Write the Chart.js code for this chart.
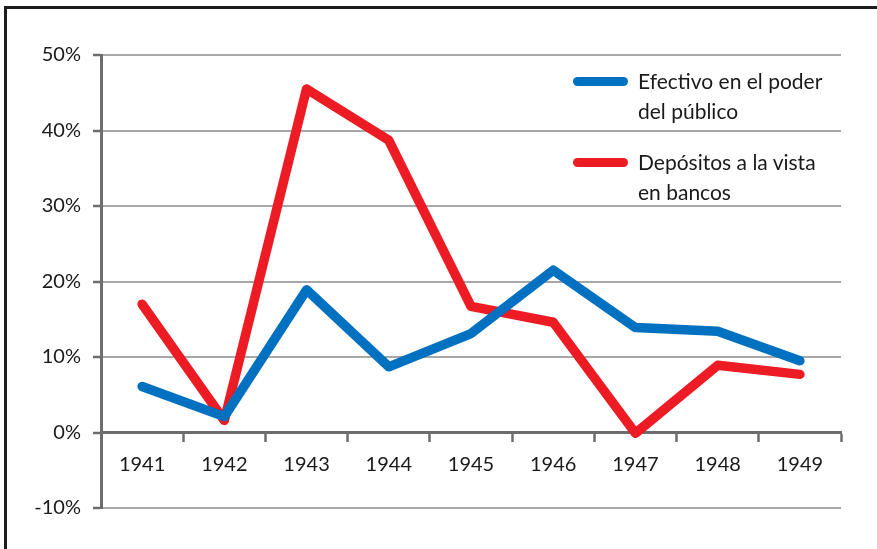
<!DOCTYPE html>
<html>
<head>
<meta charset="utf-8">
<script src="https://cdn.jsdelivr.net/npm/chart.js@4/dist/chart.umd.min.js"></script>
<style>
  html, body { margin: 0; padding: 0; background: #fff; overflow: hidden; }
  #wrap { position: relative; width: 877px; height: 549px; }
  #frame { position: absolute; left: 4px; top: 6px; width: 900px; height: 600px; border: 3px solid #1d1d1d; box-sizing: border-box; pointer-events: none; }
  canvas { position: absolute; left: 0; top: 0; }
  .leg { position: absolute; font-family: Lato, sans-serif; font-size: 21px; line-height: 30px; color: #1a1a1a; white-space: nowrap; }
  .sw { position: absolute; width: 55px; height: 9px; border-radius: 5px; }
</style>
</head>
<body>
<div id="wrap">
  <canvas id="c" width="877" height="549"></canvas>
  <div id="frame"></div>
  <div id="legend"></div>
</div>
<script>
const categories = ['1941','1942','1943','1944','1945','1946','1947','1948','1949'];
const efectivo  = [6.1, 2.1, 18.9, 8.7, 13.1, 21.5, 13.9, 13.4, 9.5];
const depositos = [17.0, 1.6, 45.5, 38.7, 16.7, 14.6, -0.1, 8.9, 7.7];
const seriesNames = [['Efectivo en el poder', 'del público'], ['Depósitos a la vista', 'en bancos']];
const yTicks = [-10, 0, 10, 20, 30, 40, 50];
const colors = ['#0070C0', '#ED1C24'];

// legend (HTML text)
const legend = document.getElementById('legend');
const legTops = [66, 147];
seriesNames.forEach((lines, i) => {
  const sw = document.createElement('div');
  sw.className = 'sw';
  sw.style.left = '573px';
  sw.style.top = (legTops[i] + 11) + 'px';
  sw.style.background = colors[i];
  legend.appendChild(sw);
  const t = document.createElement('div');
  t.className = 'leg';
  t.style.left = '638px';
  t.style.top = legTops[i] + 'px';
  t.innerHTML = lines.join('<br>');
  legend.appendChild(t);
});

const tickFont = { family: 'Lato', size: 20 };
new Chart(document.getElementById('c'), {
  type: 'line',
  data: {
    labels: categories,
    datasets: [
      { label: seriesNames[0].join(' '), data: efectivo, borderColor: colors[0], backgroundColor: colors[0],
        borderWidth: 9.5, pointRadius: 0, borderCapStyle: 'round', borderJoinStyle: 'round', tension: 0 },
      { label: seriesNames[1].join(' '), data: depositos, borderColor: colors[1], backgroundColor: colors[1],
        borderWidth: 9.5, pointRadius: 0, borderCapStyle: 'round', borderJoinStyle: 'round', tension: 0 }
    ]
  },
  options: {
    responsive: false,
    animation: false,
    events: [],
    layout: { padding: { left: 0, top: 55, right: 36, bottom: 41 } },
    plugins: { legend: { display: false }, tooltip: { enabled: false } },
    scales: {
      x: {
        type: 'category',
        position: { y: 0 },
        offset: true,
        grid: { display: true, drawOnChartArea: false, drawTicks: true, offset: true, tickLength: 8, tickColor: '#6d6d6d', tickWidth: 2.5 },
        border: { display: true, color: '#6d6d6d', width: 3 },
        ticks: { color: '#1a1a1a', font: tickFont, padding: 12, maxRotation: 0 }
      },
      y: {
        min: -10, max: 50,
        afterBuildTicks: (s) => { s.ticks = yTicks.map(v => ({ value: v })); },
        afterFit: (s) => { s.width = 101; },
        grid: { color: '#a8a8a8', lineWidth: 2, drawTicks: true, tickLength: 8, tickColor: '#6d6d6d', tickWidth: 2.5 },
        border: { display: true, color: '#6d6d6d', width: 3 },
        ticks: { color: '#1a1a1a', font: tickFont, padding: 12, callback: (v) => v + '%' }
      }
    }
  }
});
</script>
</body>
</html>
